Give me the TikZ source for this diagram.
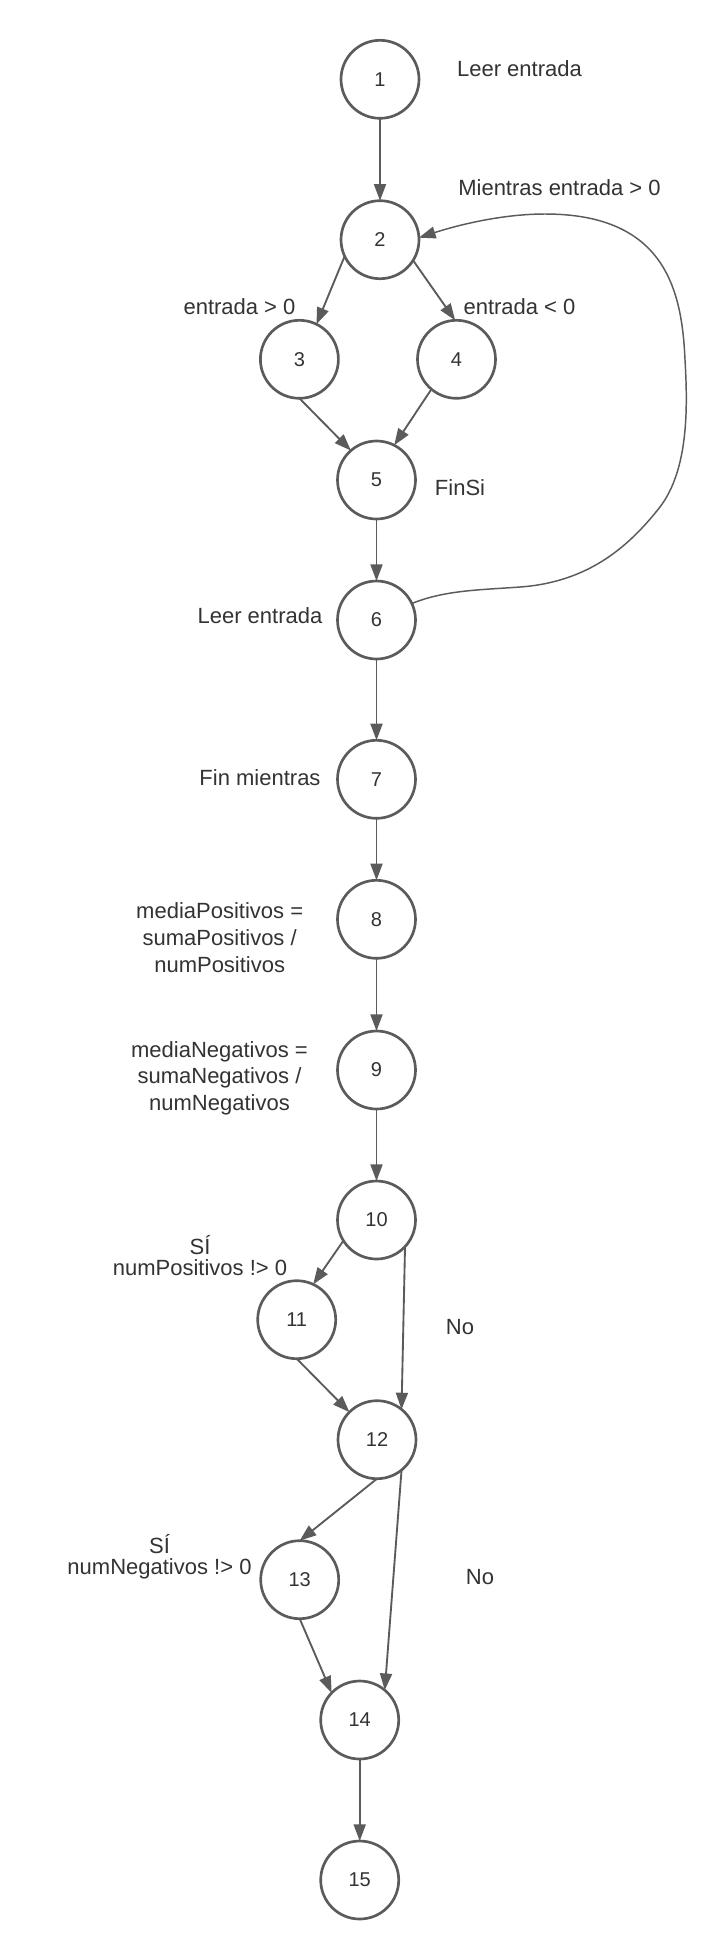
\documentclass[tikz,border=0pt]{standalone}
\usepackage{fontspec}
\setmainfont{Liberation Sans}
\usetikzlibrary{arrows.meta}
\definecolor{linec}{HTML}{5B5B5B}
\definecolor{textc}{HTML}{333333}
\begin{document}
\begin{tikzpicture}[x=0.75pt,y=-0.75pt,
  state/.style={circle,draw=linec,line width=2pt,minimum size=58.5pt,inner sep=0pt,outer sep=0pt,
    font=\fontsize{15}{18}\selectfont,text=textc},
  lbl/.style={font=\fontsize{16.5}{20}\selectfont,text=textc,align=center,inner sep=0pt},
  lbltight/.style={font=\fontsize{16.5}{15.75}\selectfont,text=textc,align=center,inner sep=0pt},
  arr/.style={draw=linec,line width=1.4pt,-{Triangle[length=12.5pt,width=9pt]}},
  looparr/.style={draw=linec,line width=1.1pt,-{Triangle[length=12.5pt,width=9pt]}},
]
\path[use as bounding box,fill=white] (0,0) rectangle (727,1960);

% nodes
\node[state] (n1) at (380,79.3) {1};
\node[state] (n2) at (380,239.7) {2};
\node[state] (n3) at (299.4,359.3) {3};
\node[state] (n4) at (456.5,359.3) {4};
\node[state] (n5) at (376.5,480) {5};
\node[state] (n6) at (376.5,620) {6};
\node[state] (n7) at (376.5,779.3) {7};
\node[state] (n8) at (376.5,919.3) {8};
\node[state] (n9) at (376.5,1070) {9};
\node[state] (n10) at (376.5,1220) {10};
\node[state] (n11) at (296.7,1319.7) {11};
\node[state] (n12) at (377,1439.7) {12};
\node[state] (n13) at (299.7,1579.7) {13};
\node[state] (n14) at (359.7,1720) {14};
\node[state] (n15) at (359.7,1880) {15};

% labels
\node[lbl] (t1) at (519.5,68.5) {Leer entrada};
\node[lbl] (t2) at (559.5,187.5) {Mientras entrada > 0};
\node[lbl] (t3) at (239.5,307) {entrada > 0};
\node[lbl] (t4) at (519.5,307) {entrada < 0};
\node[lbl] (t5) at (460,488) {FinSi};
\node[lbl] (t6) at (260,615.7) {Leer entrada};
\node[lbl] (t7) at (260,778) {Fin mientras};
\node[lbl] (t8) at (219.7,937.5) {mediaPositivos =\\sumaPositivos /\\numPositivos};
\node[lbl] (t9) at (219.5,1078) {mediaNegativos =\\sumaNegativos /\\numNegativos};
\node[lbltight] (t10) at (200,1256) {SÍ\\numPositivos !> 0};
\node[lbl] (t11) at (460,1327) {No};
\node[lbltight] (t12) at (159.5,1556.5) {SÍ\\numNegativos !> 0};
\node[lbl] (t13) at (480,1577.5) {No};

% connectors
\draw[arr] (n1.south) -- (n2.north);
\draw[arr] (n2.205) -- (n3.64);
\draw[arr] (n2.328) -- (n4.92);
\draw[arr] (n3.south) -- (n5.131);
\draw[arr] (n4.230) -- (n5.63);
\draw[arr] (n5.south) -- (n6.north);
\draw[arr] (n6.south) -- (n7.north);
\draw[arr] (n7.south) -- (n8.north);
\draw[arr] (n8.south) -- (n9.north);
\draw[arr] (n9.south) -- (n10.north);
\draw[arr] (n10.212) -- (n11.65);
\draw[arr] (n10.317) -- (n12.51);
\draw[arr] (n11.south) -- (n12.135);
\draw[arr] (n12.south) -- (n13.north);
\draw[arr] (n12.309) -- (n14.50);
\draw[arr] (n13.south) -- (n14.136);
\draw[arr] (n14.south) -- (n15.north);
% loop back 6 -> 2
\draw[looparr] (n6.25) .. controls (445,590) and (480,590) .. (520,587)
  .. controls (590,582) and (630,545) .. (660,507)
  .. controls (688,470) and (688,410) .. (685,360)
  .. controls (682,290) and (665,214) .. (545,214)
  .. controls (500,214) and (455,226) .. (n2.3);
\end{tikzpicture}
\end{document}
